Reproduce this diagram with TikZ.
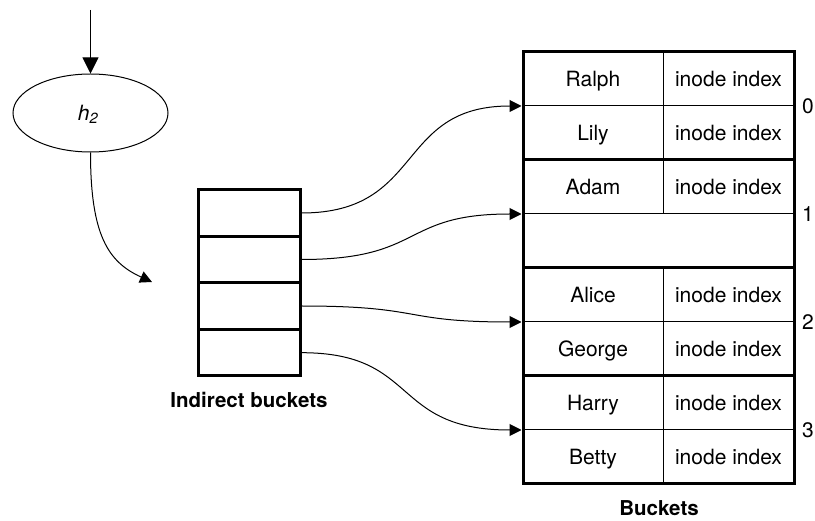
\documentclass[tikz,border=0pt]{standalone}
\usepackage{fontspec}
\setmainfont{TeX Gyre Heros}
\usetikzlibrary{arrows.meta,shapes.geometric}
\tikzset{
  conn/.style={line width=1pt},
  tip/.style={-{Triangle[length=12pt,width=12pt]}},
  bigtip/.style={-{Triangle[length=16pt,width=16pt]}},
  lbl/.style={font=\fontsize{21}{24}\selectfont, inner sep=0pt, anchor=base},
  blbl/.style={font=\fontsize{20.5}{24}\selectfont\bfseries, inner sep=0pt, anchor=base},
  icell/.style={draw, line width=3pt, minimum width=101.7pt, minimum height=46.5pt, inner sep=0pt},
  thinrule/.style={line width=1pt},
  thickrule/.style={line width=3pt},
}
\begin{document}
\begin{tikzpicture}[x=1pt,y=-1pt]
\useasboundingbox (0,0) rectangle (815,521);

% hash function
\node[draw, ellipse, line width=1pt, minimum width=155pt, minimum height=78pt, inner sep=0pt] (h) at (90.5,113) {};
\node[lbl] (hlabel) at (88,120.5) {\itshape h\textsubscript{2}};
\coordinate (top) at (90.5,10);
\coordinate (hin) at (152,282);
\draw[conn, bigtip] (top) -- (h.north);
\draw[conn, tip] (h.south) .. controls (90.5,235) and (108,262) .. (hin);

% indirect buckets
\node[icell] (i1) at (249.2,213) {};
\node[icell] (i2) at (249.2,259.5) {};
\node[icell] (i3) at (249.2,306) {};
\node[icell] (i4) at (249.2,352.7) {};
\node[blbl] (ilabel) at (249,407.5) {Indirect buckets};

% buckets table
\draw[thinrule] (523,106) -- (794,106);
\draw[thinrule] (523,214) -- (794,214);
\draw[thinrule] (523,322) -- (794,322);
\draw[thinrule] (523,430) -- (794,430);
\draw[thinrule] (663.3,52) -- (663.3,214);
\draw[thinrule] (663.3,268) -- (663.3,484);
\draw[thickrule] (523,160) -- (794,160);
\draw[thickrule] (523,268) -- (794,268);
\draw[thickrule] (523,376) -- (794,376);
\draw[thickrule] (523,52) rectangle (794,484);

\node[lbl] (n1) at (593,86.5) {Ralph};
\node[lbl] (n2) at (593,140.5) {Lily};
\node[lbl] (n3) at (593,194.5) {Adam};
\node[lbl] (n5) at (593,302.5) {Alice};
\node[lbl] (n6) at (593,356.5) {George};
\node[lbl] (n7) at (593,410.5) {Harry};
\node[lbl] (n8) at (593,464.5) {Betty};
\node[lbl] (x1) at (728.5,86.5) {inode index};
\node[lbl] (x2) at (728.5,140.5) {inode index};
\node[lbl] (x3) at (728.5,194.5) {inode index};
\node[lbl] (x5) at (728.5,302.5) {inode index};
\node[lbl] (x6) at (728.5,356.5) {inode index};
\node[lbl] (x7) at (728.5,410.5) {inode index};
\node[lbl] (x8) at (728.5,464.5) {inode index};

\node[lbl] (k0) at (808,113.5) {0};
\node[lbl] (k1) at (808,221.5) {1};
\node[lbl] (k2) at (808,329.5) {2};
\node[lbl] (k3) at (808,437.5) {3};
\node[blbl] (blabel) at (659,515.5) {Buckets};

\coordinate (b0) at (521.5,106);
\coordinate (b1) at (521.5,214);
\coordinate (b2) at (521.5,322);
\coordinate (b3) at (521.5,430);

\draw[conn, tip] (i1.east) .. controls (425,213) and (395,106) .. (b0);
\draw[conn, tip] (i2.east) .. controls (425,259.5) and (400,214) .. (b1);
\draw[conn, tip] (i3.east) .. controls (425,306) and (400,322) .. (b2);
\draw[conn, tip] (i4.east) .. controls (420,352.7) and (390,430) .. (b3);
\end{tikzpicture}
\end{document}
